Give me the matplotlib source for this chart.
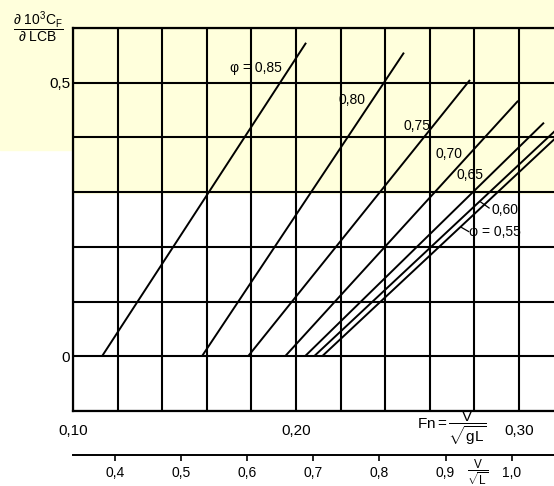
import matplotlib
matplotlib.use('Agg')
import matplotlib.pyplot as plt
from matplotlib.patches import Rectangle
import numpy as np

# ---- data ----
curve_labels = ['φ = 0,85', '0,80', '0,75', '0,70', '0,65', '0,60', 'φ = 0,55']
fn_start = [0.1130, 0.1578, 0.1785, 0.1951, 0.2040, 0.2081, 0.2117]   # Fn where dCf/dLCB = 0
fn_end = [0.2045, 0.2484, 0.2780, 0.2996, 0.3112, 0.3180, 0.3180]
y_end = [0.573, 0.555, 0.505, 0.467, 0.427, 0.419, 0.405]
label_fn = [0.1820, 0.2251, 0.2543, 0.2686, 0.2780, 0.2935, 0.2890]
label_y = [0.526, 0.469, 0.420, 0.369, 0.332, 0.268, 0.228]

# leader lines for the 0,60 and 0,55 labels
leader_fn0 = [0.2866, 0.2774]
leader_y0 = [0.271, 0.228]
leader_fn1 = [0.2828, 0.2740]
leader_y1 = [0.282, 0.236]

fn_ticks = [0.10, 0.20, 0.30]
fn_ticklabels = ['0,10', '0,20', '0,30']
fn_grid = [0.10, 0.12, 0.14, 0.16, 0.18, 0.20, 0.22, 0.24, 0.26, 0.28, 0.30]
y_ticks = [0.0, 0.5]
y_ticklabels = ['0', '0,5']
y_grid = [-0.1, 0.0, 0.1, 0.2, 0.3, 0.4, 0.5, 0.6]
vl_ticks = [0.4, 0.5, 0.6, 0.7, 0.8, 0.9, 1.0]
vl_ticklabels = ['0,4', '0,5', '0,6', '0,7', '0,8', '0,9', '1,0']
K = 3.37  # V/sqrt(L) per unit Fn

plt.rcParams['font.family'] = ['Liberation Sans', 'DejaVu Sans']
plt.rcParams['mathtext.fontset'] = 'custom'
plt.rcParams['mathtext.rm'] = 'Liberation Sans'
plt.rcParams['mathtext.it'] = 'Liberation Sans'

W, H = 554, 486
fig = plt.figure(figsize=(W / 100, H / 100), dpi=100)

# light yellow background band (scan watermark)
yellow = '#FFFFDC'
fig.patches.append(Rectangle((73 / W, 1 - 193 / H), 1 - 73 / W, 193 / H,
                             transform=fig.transFigure, color=yellow, zorder=-10))
fig.patches.append(Rectangle((0, 1 - 150 / H), 73 / W, 150 / H,
                             transform=fig.transFigure, color=yellow, zorder=-10))
fig.patches.append(Rectangle((0, 1 - 28 / H), 1, 28 / H,
                             transform=fig.transFigure, color=yellow, zorder=-10))

ax = fig.add_axes([73 / W, 1 - 411 / H, 1 - 73 / W, (411 - 28) / H])
ax.set_facecolor('none')
ax.set_xlim(0.1, 0.1 + 481 / 2230)
ax.set_ylim(-0.1, 0.6)

ax.set_xticks(fn_ticks)
ax.set_xticklabels(fn_ticklabels)
ax.set_xticks(fn_grid, minor=True)
ax.set_yticks(y_ticks)
ax.set_yticklabels(y_ticklabels)
ax.set_yticks(y_grid, minor=True)
ax.tick_params(which='both', length=0)
ax.tick_params(axis='x', labelsize=11, pad=9)
ax.tick_params(axis='y', labelsize=11, pad=2)
ax.grid(which='both', color='black', lw=1.5)
ax.set_axisbelow(True)
for s in ['left', 'top', 'bottom']:
    ax.spines[s].set_linewidth(1.6)
ax.spines['right'].set_visible(False)

for x0, x1, y1 in zip(fn_start, fn_end, y_end):
    ax.plot([x0, x1], [0.0, y1], color='black', lw=1.4, zorder=3, solid_capstyle='butt')

for t, lx, ly in zip(curve_labels, label_fn, label_y):
    ax.text(lx, ly, t, fontsize=10, ha='center', va='center', zorder=4)

for a, b, c, d in zip(leader_fn0, leader_y0, leader_fn1, leader_y1):
    ax.plot([a, c], [b, d], color='black', lw=0.9, zorder=4)

# secondary axis V/sqrt(L)
sec = ax.secondary_xaxis((411 - 455) / 383, functions=(lambda x: x * K, lambda x: x / K))
sec.set_xticks(vl_ticks)
sec.set_xticklabels(vl_ticklabels)
sec.tick_params(direction='out', length=4, width=1.2, labelsize=10, pad=4)
sec.spines['bottom'].set_linewidth(1.4)

# axis titles
fig.text(452 / W, 1 - 428 / H, r'Fn$=\dfrac{V}{\sqrt{gL}}$', fontsize=11, ha='center', va='center')
fig.text(478 / W, 1 - 472 / H, r'$\dfrac{V}{\sqrt{L}}$', fontsize=8.5, ha='center', va='center')
fig.text(38 / W, 1 - 27 / H, r'$\dfrac{\partial\ 10^3C_F}{\partial\ LCB}$', fontsize=10,
         ha='center', va='center')

fig.savefig('out.png', dpi=100)
